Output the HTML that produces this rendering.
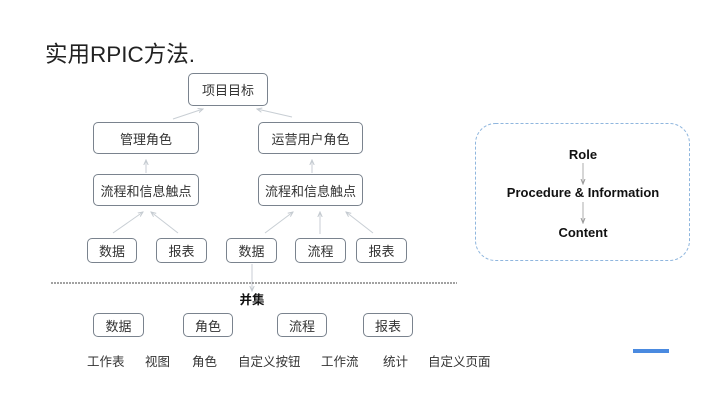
<!DOCTYPE html>
<html><head><meta charset="utf-8"><style>
html,body{margin:0;padding:0;background:#fff;}
body{width:720px;height:403px;position:relative;overflow:hidden;font-family:"Liberation Sans","Noto Sans CJK SC",sans-serif;color:#333;}
.b{position:absolute;box-sizing:border-box;border:1px solid #7a838e;border-radius:5px;display:flex;align-items:center;justify-content:center;font-size:13px;color:#333;background:#fff;}
.t{position:absolute;font-size:12.5px;color:#333;white-space:nowrap;line-height:14px;}
.e{position:absolute;font-weight:bold;font-size:13px;color:#111;white-space:nowrap;transform:translateX(-50%);line-height:14px;}
</style></head><body>
<div style="position:absolute;left:45px;top:42px;font-size:22.5px;color:#222;white-space:nowrap;line-height:26px;">实用RPIC方法.</div>

<svg width="720" height="403" style="position:absolute;left:0;top:0">
<defs><marker id="a" markerWidth="6" markerHeight="6" refX="5" refY="3" orient="auto" markerUnits="userSpaceOnUse"><path d="M0,0.8 L5,3 L0,5.2" fill="none" stroke="#c4cad0" stroke-width="1"/></marker>
<marker id="k" markerWidth="6" markerHeight="6" refX="5" refY="3" orient="auto" markerUnits="userSpaceOnUse"><path d="M0,1 L5,3 L0,5" fill="none" stroke="#999" stroke-width="1"/></marker></defs>
<g stroke="#c8ced4" stroke-width="1" fill="none" marker-end="url(#a)">
<line x1="173" y1="119" x2="203" y2="109"/>
<line x1="292" y1="117" x2="257" y2="109"/>
<line x1="146" y1="173" x2="146" y2="160"/>
<line x1="312" y1="173" x2="312" y2="160"/>
<line x1="113" y1="233" x2="143" y2="212"/>
<line x1="178" y1="233" x2="151" y2="212"/>
<line x1="265" y1="233" x2="293" y2="212"/>
<line x1="320" y1="234" x2="320" y2="212"/>
<line x1="373" y1="233" x2="346" y2="212"/>
<line x1="252" y1="264" x2="252" y2="291"/>
</g>
<line x1="51" y1="283" x2="457" y2="283" stroke="#444" stroke-width="1" stroke-dasharray="2,1"/>
<rect x="475.5" y="123.5" width="214" height="137" rx="20" ry="20" fill="none" stroke="#8fb6de" stroke-width="1" stroke-dasharray="3,2"/>
<g stroke="#999" stroke-width="0.8" marker-end="url(#k)">
<line x1="583" y1="163" x2="583" y2="184"/>
<line x1="583" y1="202" x2="583" y2="223"/>
</g>
<rect x="633" y="349" width="36" height="4" fill="#4a8ae0"/>
</svg>

<div class="b" style="left:188px;top:73px;width:80px;height:33px;">项目目标</div>
<div class="b" style="left:93px;top:122px;width:106px;height:32px;">管理角色</div>
<div class="b" style="left:258px;top:122px;width:105px;height:32px;">运营用户角色</div>
<div class="b" style="left:93px;top:174px;width:106px;height:32px;">流程和信息触点</div>
<div class="b" style="left:258px;top:174px;width:105px;height:32px;">流程和信息触点</div>

<div class="b" style="left:87px;top:238px;width:50px;height:25px;">数据</div>
<div class="b" style="left:156px;top:238px;width:51px;height:25px;">报表</div>
<div class="b" style="left:226px;top:238px;width:51px;height:25px;">数据</div>
<div class="b" style="left:295px;top:238px;width:51px;height:25px;">流程</div>
<div class="b" style="left:356px;top:238px;width:51px;height:25px;">报表</div>

<div style="position:absolute;left:252px;top:293px;transform:translateX(-50%);font-weight:bold;font-size:12.5px;color:#111;line-height:14px;">并集</div>

<div class="b" style="left:93px;top:313px;width:51px;height:24px;">数据</div>
<div class="b" style="left:183px;top:313px;width:50px;height:24px;">角色</div>
<div class="b" style="left:277px;top:313px;width:50px;height:24px;">流程</div>
<div class="b" style="left:363px;top:313px;width:50px;height:24px;">报表</div>

<div class="t" style="left:87px;top:355px;">工作表</div>
<div class="t" style="left:145px;top:355px;">视图</div>
<div class="t" style="left:192px;top:355px;">角色</div>
<div class="t" style="left:238px;top:355px;">自定义按钮</div>
<div class="t" style="left:321px;top:355px;">工作流</div>
<div class="t" style="left:383px;top:355px;">统计</div>
<div class="t" style="left:428px;top:355px;">自定义页面</div>

<div class="e" style="left:583px;top:148px;">Role</div>
<div class="e" style="left:583px;top:186px;">Procedure &amp; Information</div>
<div class="e" style="left:583px;top:226px;">Content</div>
</body></html>
